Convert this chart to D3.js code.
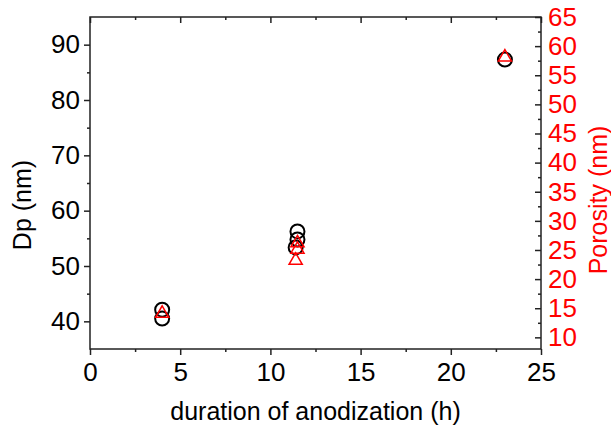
<!DOCTYPE html>
<html><head><meta charset="utf-8">
<script src="https://cdn.jsdelivr.net/npm/d3@7"></script>
<style>body{margin:0;background:#fff;} text{font-family:"Liberation Sans",Arial,sans-serif;}</style>
</head><body>
<svg id="c" width="611" height="434"></svg>
<script>
const dpX = [4, 4, 11.5, 11.5, 11.4, 23];
const dpY = [42.1, 40.5, 56.25, 54.8, 53.35, 87.3];
const porX = [4, 11.5, 11.5, 11.4, 23];
const porY = [14.1, 26.2, 25.1, 23.2, 58.1];
const xTicks = [0, 5, 10, 15, 20, 25];
const leftTicks = [40, 50, 60, 70, 80, 90];
const rightTicks = [10, 15, 20, 25, 30, 35, 40, 45, 50, 55, 60, 65];

const svg = d3.select("#c");
const L = 90, R = 541, T = 17, B = 349;
const x = d3.scaleLinear().domain([0, 25]).range([L, R]);
const yL = d3.scaleLinear().domain([35, 95]).range([B, T]);
const yR = d3.scaleLinear().domain([8, 65]).range([B, T]);
const axisCol = "#222";
const TF = 26, TT = 25;

function styleAxis(g){
  g.select(".domain").remove();
  g.selectAll("line").attr("stroke", axisCol).attr("stroke-width", 1.5);
}
const xMinor = d3.range(2.5, 25, 5);
const lMinor = d3.range(45, 95, 10);
const rMinor = d3.range(12.5, 65, 5);

// bottom axis
svg.append("g").attr("transform", `translate(0,${B})`)
  .call(d3.axisBottom(x).tickValues(xTicks).tickSize(6).tickFormat(d3.format("d")))
  .call(styleAxis)
  .call(g => g.selectAll("text").attr("font-size", TF).attr("fill", "#000").attr("y", 14));
svg.append("g").attr("transform", `translate(0,${B})`)
  .call(d3.axisBottom(x).tickValues(xMinor).tickSize(3).tickFormat(""))
  .call(styleAxis);
// top axis (inward)
svg.append("g").attr("transform", `translate(0,${T})`)
  .call(d3.axisBottom(x).tickValues(xTicks).tickSize(6).tickFormat(""))
  .call(styleAxis);
svg.append("g").attr("transform", `translate(0,${T})`)
  .call(d3.axisBottom(x).tickValues(xMinor).tickSize(3).tickFormat(""))
  .call(styleAxis);
// left axis
svg.append("g").attr("transform", `translate(${L},0)`)
  .call(d3.axisLeft(yL).tickValues(leftTicks).tickSize(6).tickFormat(d3.format("d")))
  .call(styleAxis)
  .call(g => g.selectAll("text").attr("font-size", TF).attr("fill", "#000").attr("x", -10));
svg.append("g").attr("transform", `translate(${L},0)`)
  .call(d3.axisLeft(yL).tickValues(lMinor).tickSize(3).tickFormat(""))
  .call(styleAxis);
// right axis (ticks inward)
const rAx = svg.append("g").attr("transform", `translate(${R},0)`)
  .call(d3.axisLeft(yR).tickValues(rightTicks).tickSize(6).tickFormat(d3.format("d")))
  .call(styleAxis);
rAx.selectAll("text").attr("font-size", TF).attr("fill", "#ff0000")
  .attr("x", 7).attr("text-anchor", "start");
svg.append("g").attr("transform", `translate(${R},0)`)
  .call(d3.axisLeft(yR).tickValues(rMinor).tickSize(3).tickFormat(""))
  .call(styleAxis);

// frame
svg.append("rect").attr("x", L).attr("y", T).attr("width", R - L).attr("height", B - T)
  .attr("fill", "none").attr("stroke", axisCol).attr("stroke-width", 1.5);

// data: circles
svg.append("g").selectAll("circle").data(dpX.map((d, i) => [d, dpY[i]])).enter()
  .append("circle").attr("cx", d => x(d[0])).attr("cy", d => yL(d[1])).attr("r", 7)
  .attr("fill", "none").attr("stroke", "#000").attr("stroke-width", 2);
// triangles
const tri = d3.symbol().type(d3.symbolTriangle).size(75);
svg.append("g").selectAll("path").data(porX.map((d, i) => [d, porY[i]])).enter()
  .append("path").attr("d", tri)
  .attr("transform", d => `translate(${x(d[0])},${yR(d[1])})`)
  .attr("fill", "none").attr("stroke", "#ff0000").attr("stroke-width", 1.5);

// titles
svg.append("text").attr("x", (L + R) / 2).attr("y", 420).attr("text-anchor", "middle")
  .attr("font-size", TT).attr("fill", "#000").text("duration of anodization (h)");
svg.append("text").attr("transform", "translate(31,205) rotate(-90)").attr("text-anchor", "middle")
  .attr("font-size", TT).attr("fill", "#000").text("Dp (nm)");
svg.append("text").attr("transform", "translate(607,200) rotate(-90)").attr("text-anchor", "middle")
  .attr("font-size", TT).attr("fill", "#ff0000").text("Porosity (nm)");
</script>
</body></html>
